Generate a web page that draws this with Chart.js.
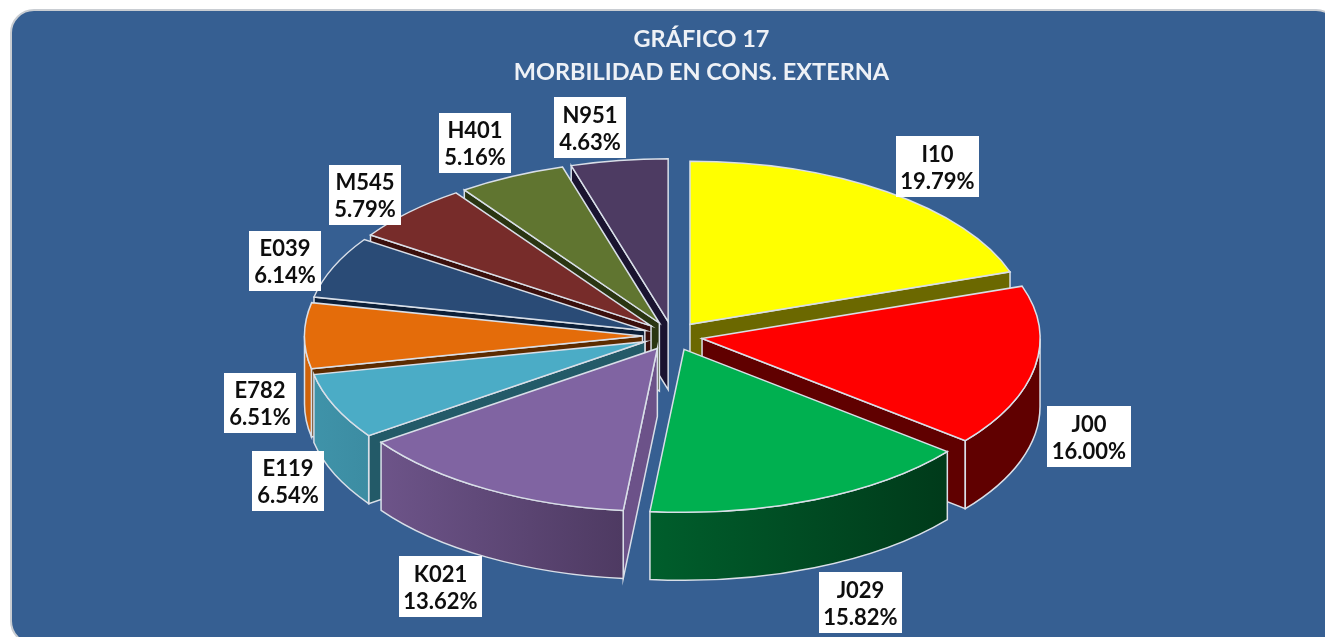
<!DOCTYPE html>
<html>
<head>
<meta charset="utf-8">
<title>Morbilidad en cons. externa</title>
<script src="https://cdn.jsdelivr.net/npm/chart.js@4/dist/chart.umd.js"></script>
<style>
    html, body { margin: 0; padding: 0; background: #fff; overflow: hidden; }
    #wrap { position: relative; width: 1325px; height: 637px; overflow: hidden; }
    #panel {
        position: absolute; left: 10px; top: 9px; width: 1330px; height: 636px;
        background: #365f92; border: 2px solid #c9cdd2; border-radius: 24px; box-sizing: border-box;
    }
    #chart { position: absolute; left: 0; top: 0; }
</style>
</head>
<body>
<div id="wrap">
    <div id="panel"></div>
    <canvas id="chart" width="1325" height="637"></canvas>
</div>
<script>
// Data
const categories = ['I10', 'J00', 'J029', 'K021', 'E119', 'E782', 'E039', 'M545', 'H401', 'N951'];
const shares = [19.79, 16.00, 15.82, 13.62, 6.54, 6.51, 6.14, 5.79, 5.16, 4.63];

// Slice colours
const topColors = ['#ffff00', '#ff0000', '#00b050', '#8064a2', '#4bacc6', '#e46c0a', '#2a4b76', '#772c2a', '#607530', '#4d3b62'];
const cutColors = ['#6b6800', '#600000', '#004d24', '#6c5289', '#235a68', '#5c2b00', '#0c1f38', '#3a0f0c', '#2a3512', '#1a1330'];
const wallLeftColors = ['#6b6800', '#600000', '#005e2c', '#6d5489', '#3f93a9', '#d0630a', '#1c3553', '#541f1d', '#435322', '#362a46'];
const wallRightColors = ['#6b6800', '#600000', '#003a1a', '#4e3a62', '#3c8ca2', '#d0630a', '#1c3553', '#541f1d', '#435322', '#362a46'];

// Label boxes, left/top/width/height in page pixels
const labelBoxes = [
    [896, 136, 83, 61], [1047, 406, 84, 61], [819, 572, 83, 61], [399, 556, 83, 61], [252, 451, 72, 60],
    [224, 373, 72, 60], [249, 231, 72, 60], [329, 165, 72, 60], [439, 113, 72, 60], [554, 97, 72, 61]
];

// Pie geometry on the page
const pieX = 672.5;
const pieY = 336;
const pieRadius = 338;
const tilt = 0.482;
const explode = 30;
const depth = 68;
const edgeColor = '#d9dfe8';

// Screen position of a slice's apex
function apexOf(arc) {
    const mid = (arc.startAngle + arc.endAngle) / 2;
    return {
        x: pieX + Math.cos(mid) * explode,
        y: pieY + Math.sin(mid) * explode * tilt
    };
}

// Trace the visible faces of one slice, back faces are skipped
function drawSides(ctx, arc, i) {
    const apex = apexOf(arc);
    const ry = pieRadius * tilt;
    const pointAt = (a) => ({ x: apex.x + Math.cos(a) * pieRadius, y: apex.y + Math.sin(a) * ry });

    ctx.lineWidth = 1.5;
    ctx.strokeStyle = edgeColor;

    // Cut faces
    const faces = [];
    if (Math.cos(arc.startAngle) < -0.001) faces.push(arc.startAngle);
    if (Math.cos(arc.endAngle) > 0.001) faces.push(arc.endAngle);
    faces.forEach((a) => {
        const p = pointAt(a);
        ctx.beginPath();
        ctx.moveTo(apex.x, apex.y);
        ctx.lineTo(p.x, p.y);
        ctx.lineTo(p.x, p.y + depth);
        ctx.lineTo(apex.x, apex.y + depth);
        ctx.closePath();
        ctx.fillStyle = cutColors[i];
        ctx.fill();
        ctx.stroke();
    });

    // Outer wall, only the part of the rim that faces the viewer
    const turn = Math.PI * 2;
    let a0 = arc.startAngle;
    let a1 = arc.endAngle;
    [[0, Math.PI], [turn, turn + Math.PI]].forEach(([lo, hi]) => {
        const from = Math.max(a0, lo);
        const to = Math.min(a1, hi);
        if (to <= from) return;
        const right = pointAt(from).x;
        const left = pointAt(to).x;
        const grad = ctx.createLinearGradient(left, 0, right + 0.01, 0);
        grad.addColorStop(0, wallLeftColors[i]);
        grad.addColorStop(1, wallRightColors[i]);
        ctx.beginPath();
        ctx.ellipse(apex.x, apex.y, pieRadius, ry, 0, from, to);
        ctx.ellipse(apex.x, apex.y + depth, pieRadius, ry, 0, to, from, true);
        ctx.closePath();
        ctx.fillStyle = grad;
        ctx.fill();
        ctx.stroke();
    });
}

// Library arc squashed onto the tilted plane, outline added in page space
function drawTop(ctx, arc) {
    const apex = apexOf(arc);
    ctx.save();
    ctx.translate(apex.x, apex.y);
    ctx.scale(1, tilt);
    ctx.translate(-arc.x, -arc.y);
    arc.draw(ctx);
    ctx.restore();

    ctx.beginPath();
    ctx.moveTo(apex.x, apex.y);
    ctx.ellipse(apex.x, apex.y, pieRadius, pieRadius * tilt, 0, arc.startAngle, arc.endAngle);
    ctx.closePath();
    ctx.lineWidth = 1.5;
    ctx.strokeStyle = edgeColor;
    ctx.stroke();
}

const pie3dPlugin = {
    id: 'pie3d',
    beforeDatasetsDraw(chart) {
        const ctx = chart.ctx;
        const arcs = chart.getDatasetMeta(0).data;
        // Paint back to front
        const order = arcs.map((arc, i) => i).sort((a, b) => {
            const midA = (arcs[a].startAngle + arcs[a].endAngle) / 2;
            const midB = (arcs[b].startAngle + arcs[b].endAngle) / 2;
            return Math.sin(midA) - Math.sin(midB);
        });
        ctx.save();
        order.forEach((i) => {
            drawSides(ctx, arcs[i], i);
            drawTop(ctx, arcs[i]);
        });
        ctx.restore();
        return false;
    }
};

// White boxes with the code and the share
const labelPlugin = {
    id: 'sliceLabels',
    afterDraw(chart) {
        const ctx = chart.ctx;
        ctx.save();
        ctx.textAlign = 'center';
        ctx.textBaseline = 'middle';
        ctx.font = 'bold 22px Lato, "Open Sans", sans-serif';
        categories.forEach((name, i) => {
            const [x, y, w, h] = labelBoxes[i];
            ctx.fillStyle = '#ffffff';
            ctx.fillRect(x, y, w, h);
            ctx.fillStyle = '#0e0e0e';
            ctx.fillText(name, x + w / 2, y + h / 2 - 12);
            ctx.fillText(shares[i].toFixed(2) + '%', x + w / 2, y + h / 2 + 15);
        });
        ctx.restore();
    }
};

document.addEventListener('DOMContentLoaded', () => {
    new Chart(document.getElementById('chart'), {
        type: 'pie',
        data: {
            labels: categories,
            datasets: [{
                data: shares,
                backgroundColor: topColors,
                borderWidth: 0
            }]
        },
        options: {
            responsive: false,
            animation: false,
            radius: pieRadius,
            layout: { padding: { left: 78, top: 23 } },
            plugins: {
                legend: { display: false },
                tooltip: { enabled: false },
                title: {
                    display: true,
                    text: ['GRÁFICO 17', 'MORBILIDAD EN CONS. EXTERNA'],
                    color: '#eef1f6',
                    font: { family: 'Lato, "Open Sans", sans-serif', size: 23.5, weight: 'bold', lineHeight: 1.4 },
                    padding: 0
                }
            }
        },
        plugins: [pie3dPlugin, labelPlugin]
    });
});
</script>
</body>
</html>
